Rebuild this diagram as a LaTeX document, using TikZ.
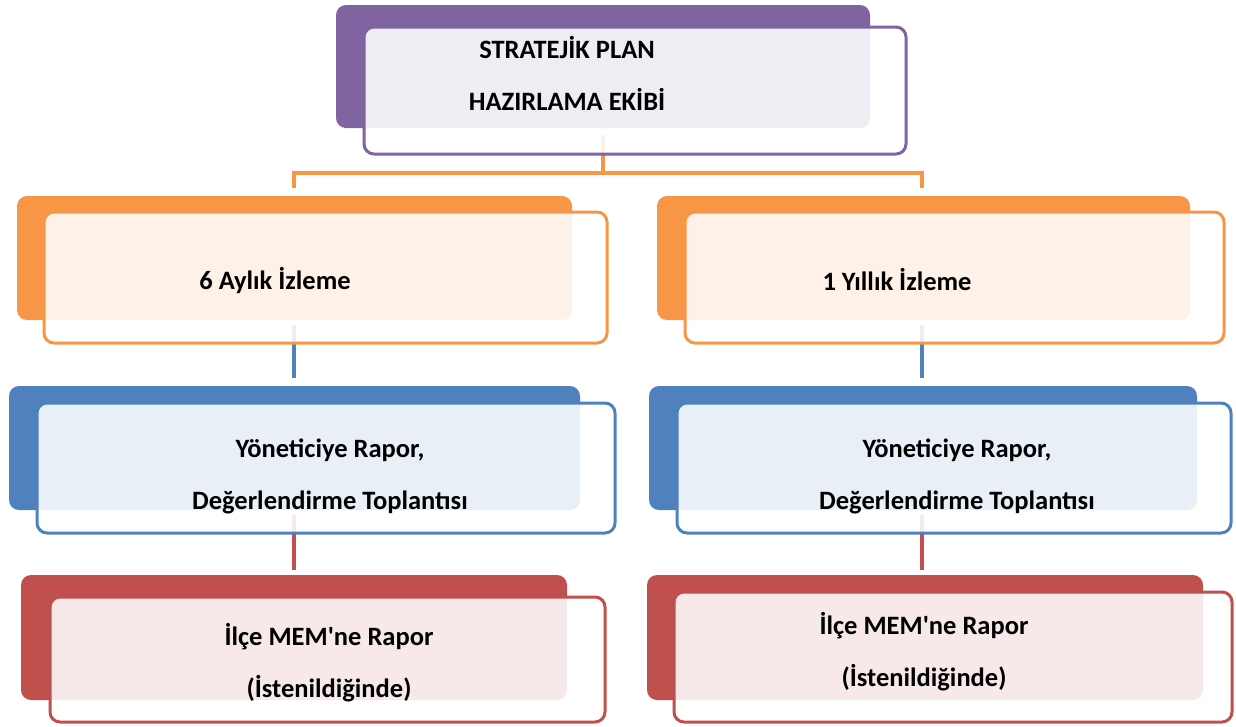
\documentclass[tikz,border=0pt]{standalone}
\usepackage{fontspec}
\setmainfont{Carlito}
\definecolor{mor}{HTML}{8064A2}
\definecolor{turuncu}{HTML}{F79646}
\definecolor{mavi}{HTML}{4F81BD}
\definecolor{kirmizi}{HTML}{C0504D}
\begin{document}
\begin{tikzpicture}[x=1pt,y=-1pt,
        back/.style = {fill=#1, rounded corners=10pt, inner sep=0pt},
        front/.style = {draw=#1, line width=3pt, fill=white, fill opacity=0.88, rounded corners=10pt, inner sep=0pt},
        txt/.style = {align=center, font=\bfseries\fontsize{26.5}{52}\selectfont},
        link/.style = {draw=#1, line width=4pt}]
        \useasboundingbox (0,0) rectangle (1236,726);
        % arka kutular
        \node[back=mor, minimum width=534pt, minimum height=123pt] (planb) at (603,66.5) {};
        \node[back=turuncu, minimum width=555pt, minimum height=124pt] (altib) at (294.5,258) {};
        \node[back=turuncu, minimum width=533pt, minimum height=124pt] (birb) at (923.5,258) {};
        \node[back=mavi, minimum width=571pt, minimum height=124pt] (yon1b) at (294.5,448) {};
        \node[back=mavi, minimum width=548pt, minimum height=124pt] (yon2b) at (923,448) {};
        \node[back=kirmizi, minimum width=546pt, minimum height=125pt] (ilce1b) at (294,637.5) {};
        \node[back=kirmizi, minimum width=556pt, minimum height=125pt] (ilce2b) at (925,637.5) {};
        % baglantilar
        \coordinate (split) at (603,173);
        \coordinate (solu) at (294,188);
        \coordinate (sagu) at (922,188);
        \draw[link=turuncu, shorten <=7pt] (planb.south) -- (split);
        \draw[link=turuncu] (solu) |- (split) -| (sagu);
        \draw[link=mavi, shorten <=5pt, shorten >=8pt] (solu |- altib.south) -- (solu |- yon1b.north);
        \draw[link=mavi, shorten <=5pt, shorten >=8pt] (sagu |- birb.south) -- (sagu |- yon2b.north);
        \draw[link=kirmizi, shorten <=5pt, shorten >=5pt] (solu |- yon1b.south) -- (solu |- ilce1b.north);
        \draw[link=kirmizi, shorten <=5pt, shorten >=5pt] (sagu |- yon2b.south) -- (sagu |- ilce2b.north);
        % on kutular
        \node[front=mor, minimum width=542pt, minimum height=127pt] (planf) at (635,90.5) {};
        \node[front=turuncu, minimum width=563pt, minimum height=131pt] (altif) at (325.5,277.5) {};
        \node[front=turuncu, minimum width=539pt, minimum height=131pt] (birf) at (954.5,277.5) {};
        \node[front=mavi, minimum width=578pt, minimum height=130pt] (yon1f) at (326,468) {};
        \node[front=mavi, minimum width=554pt, minimum height=130pt] (yon2f) at (954,468) {};
        \node[front=kirmizi, minimum width=555pt, minimum height=125pt] (ilce1f) at (327.5,659.5) {};
        \node[front=kirmizi, minimum width=558pt, minimum height=130pt] (ilce2f) at (953,657) {};
        % yazilar
        \node[txt] (plant) at (567,73.5) {STRATEJİK PLAN\\HAZIRLAMA EKİBİ};
        \node[txt] (altit) at (275,280) {6 Aylık İzleme};
        \node[txt] (birt) at (897,280) {1 Yıllık İzleme};
        \node[txt] (yon1t) at (330,476) {Yöneticiye Rapor,\\Değerlendirme Toplantısı};
        \node[txt] (yon2t) at (957,476) {Yöneticiye Rapor,\\Değerlendirme Toplantısı};
        \node[txt] (ilce1t) at (329,663) {İlçe MEM\textquotesingle ne Rapor\\(İstenildiğinde)};
        \node[txt] (ilce2t) at (924,652) {İlçe MEM\textquotesingle ne Rapor\\(İstenildiğinde)};
\end{tikzpicture}
\end{document}
